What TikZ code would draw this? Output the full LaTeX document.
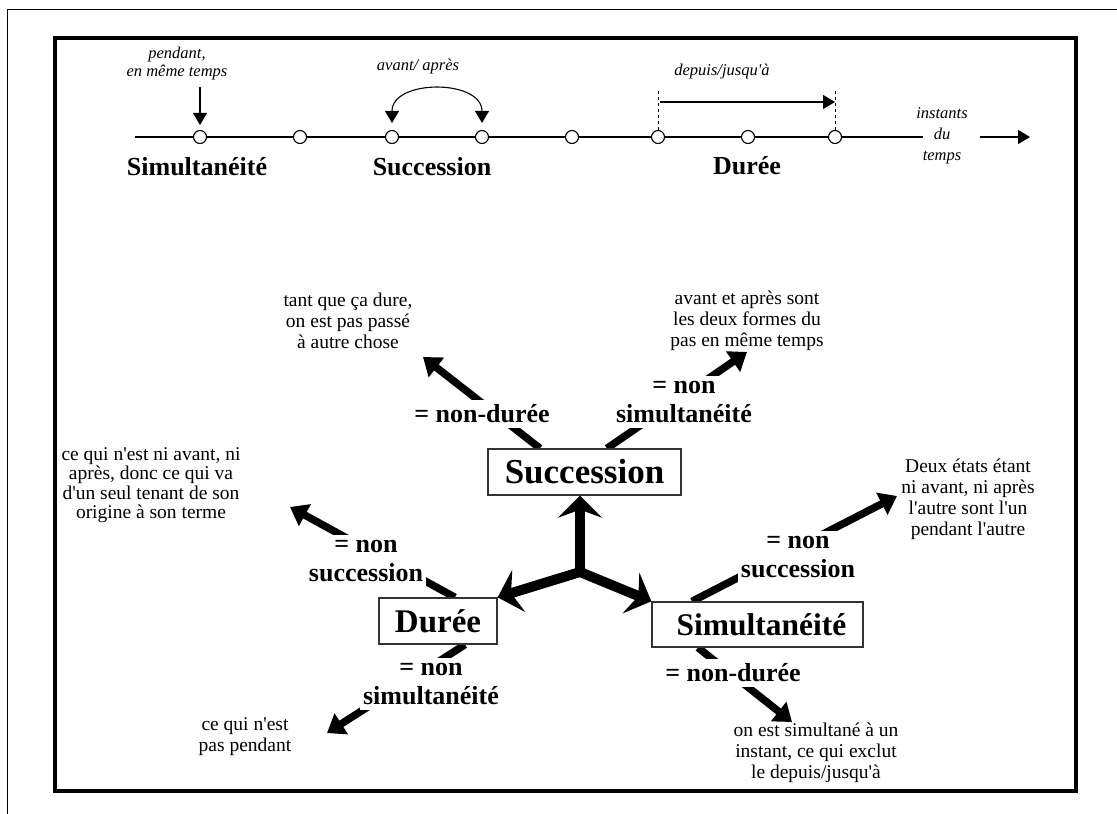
\documentclass[tikz,border=0pt]{standalone}
\usepackage{fontspec}
\setmainfont{Liberation Serif}[Ligatures=TeXOff]
\usetikzlibrary{arrows.meta,calc}
\pgfdeclarelayer{bg}
\pgfsetlayers{bg,main}
\begin{document}
\begin{tikzpicture}[x=1pt,y=-1pt,
  tick/.style={circle,draw,fill=white,minimum size=13pt,inner sep=0pt,line width=1.1pt},
  ital/.style={font=\fontsize{16.5}{18}\selectfont\itshape,align=center,inner sep=0pt},
  tlbl/.style={font=\fontsize{26}{30}\selectfont\bfseries,inner sep=0pt,anchor=base},
  concept/.style={draw=black!80,fill=white,line width=1.3pt,minimum height=46pt,inner sep=0pt},
  cfont/.style={font=\fontsize{#1}{36}\selectfont\bfseries},
  lbl/.style={font=\fontsize{26}{29}\selectfont\bfseries,fill=white,align=center,inner xsep=3pt,inner ysep=5pt},
  note/.style={font=\fontsize{19.5}{21}\selectfont,align=center,inner sep=0pt},
  tlarrow/.style={line width=1.1pt,-{Triangle[length=12pt,width=14pt]}},
  bigarrow/.style={line width=7.5pt,-{Triangle[length=17pt,width=24pt]}},
  hubarrow/.style={line width=10pt},
  hubtip/.tip={Stealth[length=22pt,width=44pt,inset=8pt]}
]
\useasboundingbox (0,0) rectangle (1117,814);
% frames
\draw[line width=1pt] (7.5,814) -- (7.5,9.5) -- (1117,9.5);
\draw[line width=4.5pt] (55,38) rectangle (1076,791);

% timeline
\coordinate (L0) at (135,137);
\coordinate (L1) at (923,137);
\draw[line width=1.1pt] (L0) -- (L1);
\coordinate (A0) at (980,137);
\coordinate (A1) at (1030,137);
\draw[tlarrow] (A0) -- (A1);
\foreach \i/\x in {1/200,2/300,3/392,4/482,5/572,6/658,7/748,8/835}
  \node[tick] (t\i) at (\x,137) {};

\node[tlbl] (lsim) at (197,175) {Simultanéité};
\node[tlbl] (lsuc) at (432,175) {Succession};
\node[tlbl] (ldur) at (747,174) {Durée};

\node[ital] (pend) at (177,64) {pendant,\\en même temps};
\coordinate (p0) at (200,87);
\draw[tlarrow] (p0) -- ([yshift=5pt]t1.north);

\node[ital] (avap) at (418,67) {avant/ après};
\draw[line width=1.1pt,{Triangle[length=12pt,width=14pt]}-{Triangle[length=12pt,width=14pt]}]
  ([yshift=7pt]t3.north) .. controls +(0,-44) and +(0,-44) .. ([yshift=7pt]t4.north);

\node[ital] (dep) at (722,72) {depuis/jusqu'à};
\coordinate (d1) at (658,90);
\coordinate (d2) at (835,90);
\draw[dashed,line width=0.8pt] (t6.north) -- (d1);
\draw[dashed,line width=0.8pt] (t8.north) -- (d2);
\coordinate (h1) at (660,102);
\coordinate (h2) at (835,102);
\draw[tlarrow] (h1) -- (h2);

\node[ital,font=\fontsize{16.5}{21}\selectfont\itshape] (inst) at (942,136) {instants\\du\\temps};

% concept boxes
\node[concept,cfont=35,minimum width=193pt] (succ) at (584.5,472) {Succession};
\node[concept,cfont=33,minimum width=118pt] (dur) at (438,621) {Durée};
\node[concept,cfont=31.5,minimum width=211pt,minimum height=45pt] (sim) at (757.5,624.5) {\hspace*{8pt}Simultanéité};

% arrows
\coordinate (J) at (580,572);
\coordinate (tUL) at (423,357);
\coordinate (tUR) at (747,352);
\coordinate (tL) at (290,507);
\coordinate (tLL) at (327,733);
\coordinate (tR) at (897,496);
\coordinate (tLR) at (792,722);
\begin{pgfonlayer}{bg}
\draw[hubarrow,line join=miter,hubtip-hubtip] (dur.north east) -- (J) -- (sim.north west);
\draw[hubarrow,-hubtip] (J) -- (J |- succ.south);
\draw[bigarrow] ($(succ.north)+(-44.5,0)$) -- (tUL);
\draw[bigarrow] ($(succ.north)+(22.5,0)$) -- (tUR);
\draw[bigarrow] ($(dur.north)+(17,0)$) -- (tL);
\draw[bigarrow] ($(dur.south)+(27,0)$) -- (tLL);
\draw[bigarrow] ($(sim.north)+(-65.5,0)$) -- (tR);
\draw[bigarrow] ($(sim.south)+(-59.5,0)$) -- (tLR);
\end{pgfonlayer}

% labels
\node[lbl] (l1) at (482,414) {= non-durée};
\node[lbl] (l2) at (684,402) {= non\\simultanéité};
\node[lbl] (l3) at (366,561) {= non\\succession};
\node[lbl] (l4) at (431,684) {= non\\simultanéité};
\node[lbl] (l5) at (798,557) {= non\\succession};
\node[lbl] (l6) at (733,673) {= non-durée};

% notes
\node[note] (n1) at (348,321) {tant que ça dure,\\on est pas passé\\à autre chose};
\node[note] (n2) at (747,321) {avant et après sont\\les deux formes du\\pas en même temps};
\node[note,font=\fontsize{19.5}{19.5}\selectfont] (n3) at (151,485) {ce qui n'est ni avant, ni\\après, donc ce qui va\\d'un seul tenant de son\\origine à son terme};
\node[note] (n4) at (968,499) {Deux états étant\\ni avant, ni après\\l'autre sont l'un\\pendant l'autre};
\node[note] (n5) at (245,737) {ce qui n'est\\pas pendant};
\node[note] (n6) at (816,753) {on est simultané à un\\instant, ce qui exclut\\le depuis/jusqu'à};
\end{tikzpicture}
\end{document}
